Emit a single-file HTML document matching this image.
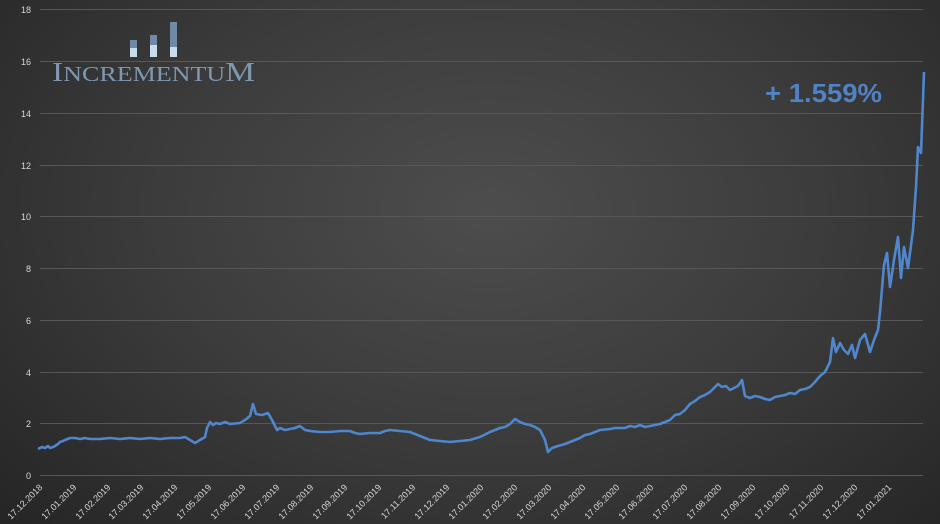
<!DOCTYPE html>
<html><head><style>
html,body{margin:0;padding:0;}
body{width:940px;height:524px;overflow:hidden;background:radial-gradient(ellipse 70% 85% at 52% 40%,#4d4d4d 0%,#3c3c3c 50%,#262626 100%);font-family:"Liberation Sans",sans-serif;}
</style></head><body>
<svg width="940" height="524" viewBox="0 0 940 524" xmlns="http://www.w3.org/2000/svg" style="position:absolute;left:0;top:0">
<g stroke="#575757" stroke-width="1">
<line x1="40" x2="923" y1="475.5" y2="475.5"/><line x1="40" x2="923" y1="423.5" y2="423.5"/>
<line x1="40" x2="923" y1="372.5" y2="372.5"/><line x1="40" x2="923" y1="320.5" y2="320.5"/>
<line x1="40" x2="923" y1="268.5" y2="268.5"/><line x1="40" x2="923" y1="216.5" y2="216.5"/>
<line x1="40" x2="923" y1="165.5" y2="165.5"/><line x1="40" x2="923" y1="113.5" y2="113.5"/>
<line x1="40" x2="923" y1="61.5" y2="61.5"/><line x1="40" x2="923" y1="9.5" y2="9.5"/>
</g>
<g fill="#d8d8d8" font-size="9" text-anchor="end">
<text x="31" y="479">0</text><text x="31" y="427">2</text><text x="31" y="376">4</text>
<text x="31" y="324">6</text><text x="31" y="272">8</text><text x="31" y="220">10</text>
<text x="31" y="169">12</text><text x="31" y="117">14</text><text x="31" y="65">16</text><text x="31" y="13">18</text>
</g>
<g fill="#d8d8d8" font-size="9" text-anchor="end">
<text transform="translate(43,488) rotate(-45)">17.12.2018</text>
<text transform="translate(77,488) rotate(-45)">17.01.2019</text>
<text transform="translate(111,488) rotate(-45)">17.02.2019</text>
<text transform="translate(144,488) rotate(-45)">17.03.2019</text>
<text transform="translate(178,488) rotate(-45)">17.04.2019</text>
<text transform="translate(212,488) rotate(-45)">17.05.2019</text>
<text transform="translate(246,488) rotate(-45)">17.06.2019</text>
<text transform="translate(280,488) rotate(-45)">17.07.2019</text>
<text transform="translate(314,488) rotate(-45)">17.08.2019</text>
<text transform="translate(348,488) rotate(-45)">17.09.2019</text>
<text transform="translate(382,488) rotate(-45)">17.10.2019</text>
<text transform="translate(416,488) rotate(-45)">17.11.2019</text>
<text transform="translate(450,488) rotate(-45)">17.12.2019</text>
<text transform="translate(484,488) rotate(-45)">17.01.2020</text>
<text transform="translate(518,488) rotate(-45)">17.02.2020</text>
<text transform="translate(552,488) rotate(-45)">17.03.2020</text>
<text transform="translate(586,488) rotate(-45)">17.04.2020</text>
<text transform="translate(620,488) rotate(-45)">17.05.2020</text>
<text transform="translate(654,488) rotate(-45)">17.06.2020</text>
<text transform="translate(688,488) rotate(-45)">17.07.2020</text>
<text transform="translate(722,488) rotate(-45)">17.08.2020</text>
<text transform="translate(756,488) rotate(-45)">17.09.2020</text>
<text transform="translate(790,488) rotate(-45)">17.10.2020</text>
<text transform="translate(824,488) rotate(-45)">17.11.2020</text>
<text transform="translate(858,488) rotate(-45)">17.12.2020</text>
<text transform="translate(892,488) rotate(-45)">17.01.2021</text>
</g>
<g>
<rect x="130" y="40" width="7" height="17" fill="#6f8aa6"/><rect x="130" y="48" width="7" height="9" fill="#c9dcec"/>
<rect x="150" y="35" width="7" height="22" fill="#6f8aa6"/><rect x="150" y="45" width="7" height="12" fill="#c9dcec"/>
<rect x="170" y="22" width="7" height="35" fill="#6f8aa6"/><rect x="170" y="47" width="7" height="10" fill="#c9dcec"/>
</g>
<text x="52" y="81" font-family="Liberation Serif,serif" font-size="27" fill="#7f98b2" textLength="203" lengthAdjust="spacingAndGlyphs">I<tspan font-size="21">NCREMENTU</tspan>M</text>
<text x="765" y="102" font-size="26" font-weight="bold" fill="#5082c4" textLength="117" lengthAdjust="spacingAndGlyphs">+ 1.559%</text>
<polyline fill="none" stroke="#4f86cc" stroke-width="2.6" stroke-linejoin="round" points="38,449 42,447 45,448 48,446 50,448 53,447 55,446 58,444 60,442 63,441 65,440 70,438 75,438 80,439 85,438 90,439 100,439 110,438 120,439 130,438 140,439 150,438 160,439 170,438 180,438 185,437 190,440 195,443 200,440 205,437 207,428 210,422 213,425 216,423 220,424 225,422 230,424 240,423 245,420 250,416 253,404 256,414 262,415 268,413 272,420 277,430 280,428 285,430 290,429 295,428 300,426 305,430 310,431 320,432 330,432 340,431 350,431 355,433 360,434 370,433 380,433 385,431 390,430 400,431 410,432 415,434 420,436 425,438 430,440 440,441 450,442 460,441 470,440 480,437 490,432 500,428 505,427 510,424 515,419 520,422 525,424 530,425 535,427 540,430 545,440 548,452 552,448 558,446 565,444 575,440 580,438 585,435 590,434 600,430 610,429 615,428 625,428 630,426 635,427 640,425 645,427 650,426 660,424 670,420 675,415 680,414 685,410 690,404 695,401 700,397 705,395 710,392 714,388 718,384 722,387 726,386 730,390 734,388 738,386 742,380 745,396 750,398 755,396 760,397 765,399 770,400 775,397 780,396 785,395 790,393 795,394 800,390 805,389 810,387 815,382 820,376 825,372 830,362 833,338 836,352 840,343 844,350 848,354 852,345 855,358 860,340 865,334 870,352 874,340 878,330 880,312 884,265 887,253 890,287 894,260 898,237 901,278 904,247 908,268 913,230 916,187 918,147 921,153 924,72"/>
</svg>
</body></html>
